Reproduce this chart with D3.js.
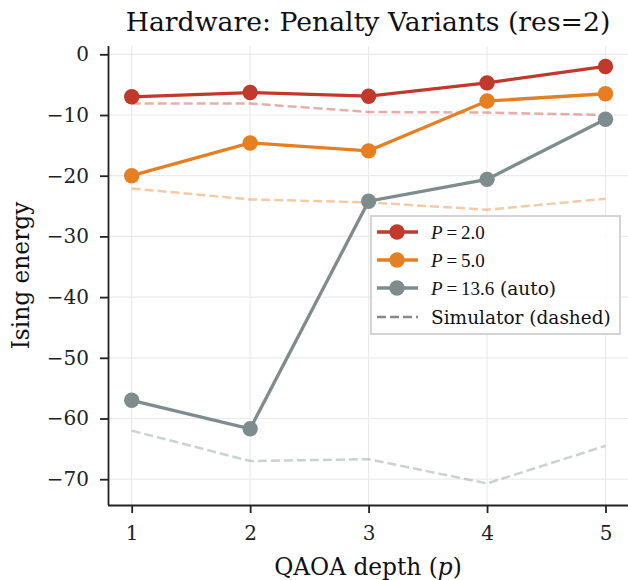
<!DOCTYPE html>
<html>
<head>
<meta charset="UTF-8">
<script src="https://d3js.org/d3.v7.min.js"></script>
<style>
  body { margin: 0; background: #fff; }
  svg { display: block; font-family: "DejaVu Serif", serif; }
</style>
</head>
<body>
<svg id="chart" width="628" height="580"></svg>
<script>
// data
const depths = [1, 2, 3, 4, 5];
const hwP2 = [-7.0, -6.3, -6.9, -4.7, -2.0];
const hwP5 = [-20.0, -14.6, -15.9, -7.7, -6.5];
const hwAuto = [-57.0, -61.7, -24.2, -20.6, -10.7];
const simP2 = [-8.1, -8.1, -9.5, -9.6, -10.0];
const simP5 = [-22.1, -23.9, -24.4, -25.6, -23.8];
const simAuto = [-62.0, -67.0, -66.7, -70.7, -64.5];
const yTicks = [0, -10, -20, -30, -40, -50, -60, -70];

const series = [
  { name: 'P', val: '2.0', extra: '', color: '#c0392b', hw: hwP2, sim: simP2 },
  { name: 'P', val: '5.0', extra: '', color: '#e67e22', hw: hwP5, sim: simP5 },
  { name: 'P', val: '13.6', extra: ' (auto)', color: '#7f8c8d', hw: hwAuto, sim: simAuto }
];

const svg = d3.select('#chart');
const pl = 108, pr = 628, pt = 46, pb = 505;

const x = d3.scaleLinear().domain([0.8, 5.19]).range([pl, pr]);
const y = d3.scaleLinear().domain([-74.25, 1.37]).range([pb, pt]);

// grid
svg.append('g').selectAll('line').data(yTicks).enter().append('line')
  .attr('x1', pl).attr('x2', pr)
  .attr('y1', d => y(d)).attr('y2', d => y(d))
  .attr('stroke', '#ebebeb').attr('stroke-width', 1.2);
svg.append('g').selectAll('line').data(depths).enter().append('line')
  .attr('y1', pt).attr('y2', pb)
  .attr('x1', d => x(d)).attr('x2', d => x(d))
  .attr('stroke', '#ebebeb').attr('stroke-width', 1.2);

const line = d3.line().x((d, i) => x(depths[i])).y(d => y(d));

// simulator dashed lines
series.forEach(s => {
  svg.append('path').datum(s.sim)
    .attr('d', line).attr('fill', 'none')
    .attr('stroke', s.color).attr('stroke-opacity', 0.4)
    .attr('stroke-width', 2.5).attr('stroke-dasharray', '9,4');
});

// hardware lines + markers
series.forEach(s => {
  svg.append('path').datum(s.hw)
    .attr('d', line).attr('fill', 'none')
    .attr('stroke', s.color).attr('stroke-width', 3.3);
  svg.append('g').selectAll('circle').data(s.hw).enter().append('circle')
    .attr('cx', (d, i) => x(depths[i])).attr('cy', d => y(d))
    .attr('r', 7.7).attr('fill', s.color);
});

// axes
const xAxis = svg.append('g').attr('transform', `translate(0,${pb})`)
  .call(d3.axisBottom(x).tickValues(depths).tickSize(8).tickPadding(14).tickFormat(d3.format('d')));
const yAxis = svg.append('g').attr('transform', `translate(${pl},0)`)
  .call(d3.axisLeft(y).tickValues(yTicks).tickSize(8).tickPadding(11)
    .tickFormat(d => d < 0 ? '\u2212' + Math.abs(d) : d));
[xAxis, yAxis].forEach(a => {
  a.select('.domain').attr('stroke', '#222').attr('stroke-width', 1.8);
  a.selectAll('.tick line').attr('stroke', '#222').attr('stroke-width', 1.8);
  a.selectAll('.tick text').attr('fill', '#222').style('font-size', '20px')
    .style('font-family', '"DejaVu Serif", serif');
});
xAxis.selectAll('.tick text').attr('dy', null).attr('y', 35);
xAxis.select('.domain').attr('d', `M${pl},0.5H${pr}`);
yAxis.select('.domain').attr('d', `M0.5,${pt}V${pb}`);

// title and labels
svg.append('text').attr('x', (pl + pr) / 2).attr('y', 31)
  .attr('text-anchor', 'middle').style('font-size', '26.7px').attr('fill', '#111')
  .text('Hardware: Penalty Variants (res=2)');

const xl = svg.append('text').attr('x', (pl + pr) / 2).attr('y', 575)
  .attr('text-anchor', 'middle').style('font-size', '23.3px').attr('fill', '#111');
xl.append('tspan').text('QAOA depth (');
xl.append('tspan').style('font-style', 'italic').text('p');
xl.append('tspan').text(')');

svg.append('text').attr('transform', `translate(29,${(pt + pb) / 2}) rotate(-90)`)
  .attr('text-anchor', 'middle').style('font-size', '23.3px').attr('fill', '#111')
  .text('Ising energy');

// legend
const lg = svg.append('g');
lg.append('rect').attr('x', 371).attr('y', 216).attr('width', 249).attr('height', 118)
  .attr('fill', '#fff').attr('fill-opacity', 0.85).attr('stroke', '#d4d4d4').attr('stroke-width', 2);
const rows = [232, 260, 288, 317];
series.forEach((s, i) => {
  const ry = rows[i];
  lg.append('line').attr('x1', 377).attr('x2', 418).attr('y1', ry).attr('y2', ry)
    .attr('stroke', s.color).attr('stroke-width', 3.3);
  lg.append('circle').attr('cx', 397).attr('cy', ry).attr('r', 7.7).attr('fill', s.color);
  const t = lg.append('text').attr('x', 431).attr('y', ry + 6.5).style('font-size', '19px').attr('fill', '#111');
  t.append('tspan').style('font-family', '"Liberation Serif", serif').style('font-style', 'italic').text(s.name);
  t.append('tspan').style('font-family', '"Liberation Serif", serif').text('\u2009=\u2009' + s.val);
  if (s.extra) t.append('tspan').style('font-size', '18.5px').text(s.extra);
});
lg.append('line').attr('x1', 377).attr('x2', 418).attr('y1', rows[3]).attr('y2', rows[3])
  .attr('stroke', '#888').attr('stroke-width', 2.5).attr('stroke-dasharray', '9,4');
lg.append('text').attr('x', 431).attr('y', rows[3] + 6.5).style('font-size', '18.5px').attr('fill', '#111')
  .text('Simulator (dashed)');
</script>
</body>
</html>
